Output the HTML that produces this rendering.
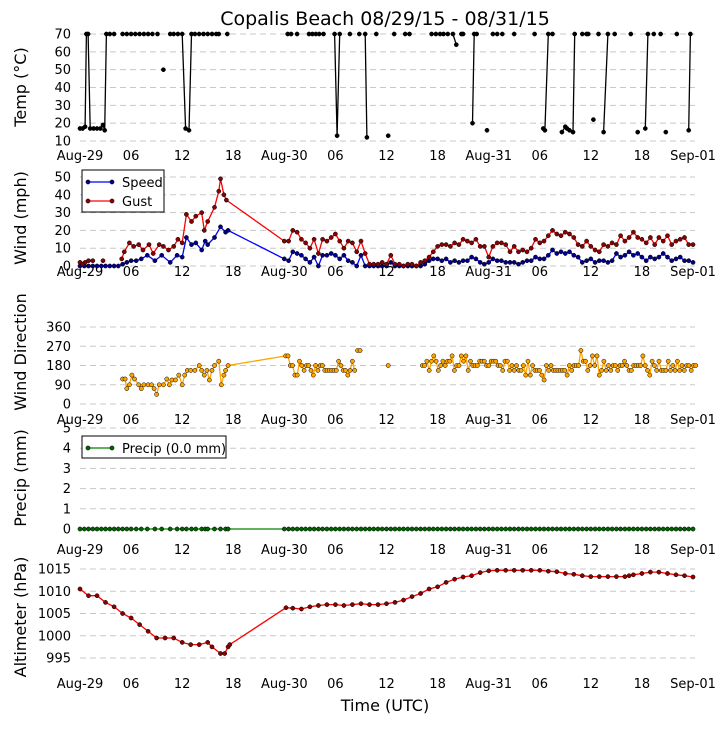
<!DOCTYPE html>
<html><head><meta charset="utf-8">
<style>
html,body{margin:0;padding:0;background:#fff;}
svg text{font-family:"DejaVu Sans","Liberation Sans",sans-serif;fill:#000;}
</style></head>
<body>
<svg id="chart" width="725" height="725" viewBox="0 0 725 725" xmlns="http://www.w3.org/2000/svg">
<text x="385" y="25" font-size="19" text-anchor="middle">Copalis Beach 08/29/15 - 08/31/15</text>
<text x="385" y="711" font-size="16" text-anchor="middle">Time (UTC)</text>
</svg>
<script>
const xTickHours=[0,6,12,18,24,30,36,42,48,54,60,66,72];
const xTickLabels=["Aug-29","06","12","18","Aug-30","06","12","18","Aug-31","06","12","18","Sep-01"];

const tempT=[0,0.3,0.6,0.75,0.95,1.2,1.6,2,2.4,2.7,2.9,3.1,3.5,4,5,5.5,6,6.5,7,7.5,8,8.5,9.1,9.8,10.6,11,11.5,12,12.4,12.8,13.1,13.5,14,14.5,15,15.5,16,16.3,17.3,24.4,24.8,25.5,26.9,27.3,27.7,28.1,28.6,29.9,30.2,30.5,31.7,32.8,33.5,33.7,34.8,36.2,36.9,38.2,38.7,41.3,41.8,42.3,42.7,43.2,43.8,44.2,44.8,45.0,46.1,46.3,46.6,47.8,48.5,49.0,49.6,51.0,53.4,54.4,54.6,55.0,55.5,56.6,57.0,57.2,57.5,57.9,58.1,59.0,59.5,59.7,60.3,60.9,61.5,62.0,62.8,64.7,65.5,66.4,66.7,67.4,68.2,68.8,70.1,71.5,71.7];
const tempV=[17,17,18,70,70,17,17,17,17,19,16,70,70,70,70,70,70,70,70,70,70,70,70,50,70,70,70,70,17,16,70,70,70,70,70,70,70,70,70,70,70,70,70,70,70,70,70,70,13,70,70,70,70,12,70,13,70,70,70,70,70,70,70,70,70,64,70,70,20,70,70,16,70,70,70,70,70,17,16,70,70,15,18,17,16,15,70,70,70,70,22,70,15,70,70,70,15,17,70,70,70,15,70,16,70];

const speedT=[0,0.5,1,1.5,2,2.5,3,3.5,4,4.5,5,5.5,6,6.6,7.2,7.9,8.8,9.6,10.6,11.4,12,12.5,13.1,13.6,14.3,14.7,15,15.8,16.5,17.1,17.4];
const speedV=[0,0,0,0,0,0,0,0,0,0,1,2,3,3,4,6,3,6,2,6,5,16,12,13,9,14,12,16,22,19,20];
const speed2V=[4,3,8,7,6,4,2,5,0,6,6,7,6,4,6,3,2,0,6,0,0,0,0,0,0,2,0,0,0,0,0,0,0,1,3,4,4,3,4,2,3,2,3,3,5,4,2,1,2,4,3,3,2,2,2,1,2,3,3,5,4,4,6,9,7,8,7,8,6,5,2,3,4,2,3,3,2,3,7,5,6,8,6,7,5,3,5,4,5,7,5,3,4,5,3,3,2];
const gustT=[0,0.3,0.6,1,1.5,2.1,2.7,3.5,4.9,5.2,5.8,6.3,6.9,7.4,8.1,8.6,9.3,9.8,10.4,11,11.5,12,12.5,13.1,13.6,14.3,14.6,15,15.8,16.3,16.5,16.9,17.2];
const gustV=[2,1,2,3,3,null,3,null,4,8,13,11,12,9,12,7,12,11,9,11,15,13,29,25,28,30,20,25,33,42,49,40,37];
const gust2V=[14,14,20,19,15,13,10,15,7,15,14,16,18,14,10,14,13,8,14,7,1,1,1,2,1,6,1,1,0,1,1,0,2,3,5,8,11,12,12,11,13,12,15,14,13,15,11,11,5,11,13,13,12,8,11,8,9,8,10,15,13,14,17,20,18,17,19,18,16,12,11,14,11,9,8,12,11,13,12,17,14,16,19,16,15,13,16,12,16,14,17,12,14,15,16,12,12];

const dirAT=[5,5.3,5.5,5.8,6.1,6.4,6.9,7.2,7.5,8,8.4,8.7,9,9.3,9.8,10.2,10.5,10.8,11.2,11.6,12,12.3,12.6,13,13.5,14,14.3,14.6,14.9,15.2,15.5,15.8,16.3,16.6,16.9,17.1,17.4];
const dirAV=[117,117,72,90,135,117,90,72,90,90,90,72,45,90,90,117,90,112,112,135,90,135,157,157,157,180,157,135,157,112,157,180,200,90,135,157,180];
const dirBV=[225,225,180,180,135,135,200,180,157,180,180,157,135,180,157,180,180,157,157,157,157,157,157,200,180,157,157,135,157,200,157];
const dirIsoT=[32.3,32.6,32.9,34.5,36.2,37];
const dirIsoV=[null,250,250,null,180,null];
const dirCV=[180,180,200,157,200,225,200,157,180,200,180,200,200,225,157,180,180,225,200,225,157,200,180,180,180,200,200,200,180,180,200,200,200,180,180,157,200,200,157,180,157,180,157,157,180,135,200,135,180,157,157,157,135,112,180,157,180,157,157,157,157,157,157,135,180,157,180,180,180,250,200,200,157,180,225,180,225,135,157,200,157,180,157,180,180,157,180,180,200,180,157,157,180,180,180,180,225,180,157,135,200,180,157,200,157,157,157,200,157,180,157,200,157,180,157,180,180,157,180,180];

const altT=[0,1,2,3,4,5,6,7,8,9,10,11,12,13,14,15,15.5,16.5,17,17.4,17.6,24.2,25,26,27,28,29,30,31,32,33,34,35,36,37,38,39,40,41,42,43,44,45,46,47,48,49,50,51,52,53,54,55,56,57,58,59,60,61,62,63,64,64.5,65,66,67,68,69,70,71,72];
const altV=[1010.5,1009,1009,1007.5,1006.5,1005,1004,1002.5,1001,999.5,999.5,999.5,998.5,998,998,998.5,997.5,996,996,997.5,998,1006.3,1006.2,1006,1006.5,1006.8,1007,1007,1006.8,1007,1007.2,1007,1007,1007.2,1007.5,1008,1008.8,1009.5,1010.5,1011,1012,1012.7,1013.2,1013.5,1014.2,1014.6,1014.7,1014.7,1014.7,1014.7,1014.7,1014.7,1014.5,1014.4,1014,1013.8,1013.5,1013.3,1013.3,1013.3,1013.3,1013.3,1013.5,1013.7,1014,1014.3,1014.3,1014,1013.7,1013.5,1013.2];
const precipTotal=0.0;

const NS="http://www.w3.org/2000/svg";
const svg=document.getElementById('chart');
const X0=80,X1=693,XR=695;
function xs(t){return X0+t*(X1-X0)/72;}
function mk(tag,attrs,parent){const e=document.createElementNS(NS,tag);for(const k in attrs)e.setAttribute(k,attrs[k]);(parent||svg).appendChild(e);return e;}

const half2T=[];for(let i=0;i<97;i++)half2T.push(24+i*0.5);
const dirBT=[];for(let i=0;i<dirBV.length;i++)dirBT.push(24.16+i*0.27);
const dirCT=[];for(let i=0;i<dirCV.length;i++)dirCT.push(40.2+i*0.27);

function makePanel(name,vp0,vp1,v0,v1,ticks,xlabY,title,titleY){
  const ys=v=>vp0+(v-v0)*(vp1-vp0)/(v1-v0);
  const g=mk('g',{});
  
  
  ticks.forEach(v=>{
    const y=ys(v);
    const l=mk('line',{x1:X0,x2:XR,y1:y,y2:y,stroke:'#c8c8c8','stroke-dasharray':'6,4','stroke-width':1},g);
    
    
    const t=mk('text',{x:71,y:y+4.5,'font-size':13,'text-anchor':'end'},g);
    t.textContent=v;
    
    
  });
  xTickHours.forEach((h,i)=>{
    const t=mk('text',{x:xs(h),y:xlabY,'font-size':13,'text-anchor':'middle'},g);
    t.textContent=xTickLabels[i];
    
    
  });
  const tt=mk('text',{x:0,y:0,'font-size':16,'text-anchor':'middle',transform:'translate(26,'+titleY+') rotate(-90)'},g);
  tt.textContent=title;
  
  
  return {ys,g};
}
function series(p,T,V,line,fill,name,maxGap){
  const g=mk('g',{},p.g);
  
  
  let d='',prev=null;
  for(let i=0;i<T.length;i++){
    if(V[i]===null||V[i]===undefined){prev=null;continue;}
    const x=xs(T[i]),y=p.ys(V[i]);
    if(prev!==null&&(!maxGap||T[i]-prev<=maxGap))d+='L'+x.toFixed(1)+' '+y.toFixed(1);
    else d+='M'+x.toFixed(1)+' '+y.toFixed(1);
    prev=T[i];
  }
  const pth=mk('path',{d:d,fill:'none',stroke:line,'stroke-width':1.3},g);
  
  
  for(let i=0;i<T.length;i++){
    if(V[i]===null||V[i]===undefined)continue;
    const c=mk('circle',{cx:xs(T[i]).toFixed(1),cy:p.ys(V[i]).toFixed(1),r:2.1,fill:fill,stroke:'#000','stroke-width':0.5},g);
    
    
  }
}
function legend(x,y,w,h,entries){
  const g=mk('g',{});
  
  
  mk('rect',{x:x,y:y,width:w,height:h,fill:'#fff',stroke:'#000','stroke-width':1},g);
  entries.forEach((e,i)=>{
    const yy=y+12+i*19;
    const eg=mk('g',{},g);
    
    
    mk('line',{x1:x+6,x2:x+30,y1:yy,y2:yy,stroke:e[1],'stroke-width':1.3},eg);
    mk('circle',{cx:x+6,cy:yy,r:2.1,fill:e[2],stroke:'#000','stroke-width':0.5},eg);
    mk('circle',{cx:x+30,cy:yy,r:2.1,fill:e[2],stroke:'#000','stroke-width':0.5},eg);
    const t=mk('text',{x:x+40,y:yy+5,'font-size':13},eg);
    t.textContent=e[0];
  });
}

const pT=makePanel('temp',141,34,10,70,[10,20,30,40,50,60,70],160,'Temp (\u00B0C)',87);
series(pT,tempT,tempV,'#000','#000','temp-series',0.5);

const pW=makePanel('wind',266,177,0,50,[0,10,20,30,40,50],276,'Wind (mph)',218);
series(pW,speedT.concat(half2T),speedV.concat(speed2V),'#0000ff','#00008b','speed-series');
series(pW,gustT.concat(half2T),gustV.concat(gust2V),'#ff0000','#8b0000','gust-series');
legend(82,170,82,42,[['Speed','#0000ff','#00008b'],['Gust','#ff0000','#8b0000']]);

const pD=makePanel('direction',404,327,0,360,[0,90,180,270,360],424,'Wind Direction',352);
series(pD,dirAT.concat(dirBT,dirIsoT,dirCT),dirAV.concat(dirBV,dirIsoV,dirCV),'#ffa500','#ffa500','direction-series');

const precipT=speedT.concat(half2T);
const precipV=precipT.map(()=>precipTotal);
const pP=makePanel('precip',529,428,0,5,[0,1,2,3,4,5],554,'Precip (mm)',478);
series(pP,precipT,precipV,'#008000','#006400','precip-series');
legend(82,436,144,22,[['Precip (0.0 mm)','#008000','#006400']]);

const pA=makePanel('altimeter',658,569,995,1015,[995,1000,1005,1010,1015],688,'Altimeter (hPa)',617);
series(pA,altT,altV,'#ff0000','#8b0000','altimeter-series');
</script>
</body></html>
